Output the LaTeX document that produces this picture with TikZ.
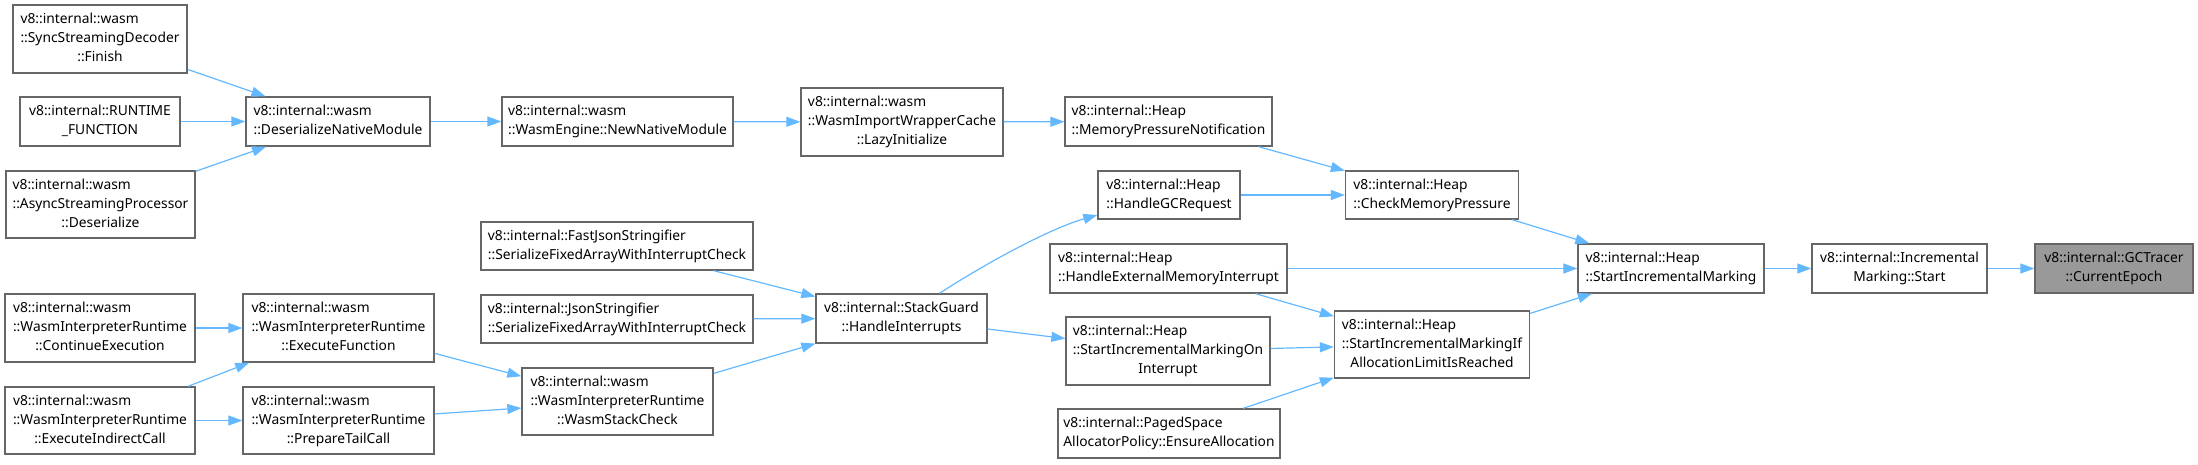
\documentclass[tikz,border=0pt]{standalone}
\usepackage{fontspec}
\setmainfont{Noto Sans}
\usetikzlibrary{arrows.meta,calc}
\definecolor{bordc}{HTML}{666666}
\definecolor{edgec}{HTML}{63B8FF}
\definecolor{mainc}{HTML}{999999}
\newcommand\lastl[1]{\multicolumn{1}{@{}c@{}}{#1}}
\newcommand\lbl[1]{\begin{tabular}{@{}l@{}}#1\end{tabular}}
\newcommand\bx[7][]{\node[box,#1,minimum width=#5pt,minimum height=#6pt] (#2) at (#3,#4) {\lbl{#7}};}
\tikzset{
  box/.style={draw=bordc, fill=white, line width=1.3pt, inner sep=0pt, font=\fontsize{13.8}{19}\selectfont},
  edge/.style={draw=edgec, line width=1.2pt, -{Triangle[length=14pt,width=10pt]}},
}
\begin{document}
\begin{tikzpicture}[x=1pt,y=-1pt]
\useasboundingbox (0,0) rectangle (2198,464);
% column 1
\bx{fin}{100}{39}{174}{68}{v8::internal::wasm\\ ::SyncStreamingDecoder\\ \lastl{::Finish}}
\bx{rtf}{100}{121.5}{160}{49}{v8::internal::RUNTIME\\ \lastl{\_FUNCTION}}
\bx{asp}{100.5}{204.5}{189}{67}{v8::internal::wasm\\ ::AsyncStreamingProcessor\\ \lastl{::Deserialize}}
\bx{ce}{100}{328}{190}{68}{v8::internal::wasm\\ ::WasmInterpreterRuntime\\ \lastl{::ContinueExecution}}
\bx{eic}{100}{420.5}{190}{67}{v8::internal::wasm\\ ::WasmInterpreterRuntime\\ \lastl{::ExecuteIndirectCall}}
% column 2
\bx{dnm}{338}{121.5}{184}{49}{v8::internal::wasm\\ \lastl{::DeserializeNativeModule}}
\bx{ef}{338.5}{328}{191}{68}{v8::internal::wasm\\ ::WasmInterpreterRuntime\\ \lastl{::ExecuteFunction}}
\bx{ptc}{338.5}{420.5}{191}{67}{v8::internal::wasm\\ ::WasmInterpreterRuntime\\ \lastl{::PrepareTailCall}}
% column 3
\bx{nnm}{617.5}{121.5}{231}{49}{v8::internal::wasm\\ \lastl{::WasmEngine::NewNativeModule}}
\bx{fjs}{617}{246}{272}{48}{v8::internal::FastJsonStringifier\\ \lastl{::SerializeFixedArrayWithInterruptCheck}}
\bx{js}{617}{319}{272}{48}{v8::internal::JsonStringifier\\ \lastl{::SerializeFixedArrayWithInterruptCheck}}
\bx{wsc}{617.5}{401.5}{191}{67}{v8::internal::wasm\\ ::WasmInterpreterRuntime\\ \lastl{::WasmStackCheck}}
% column 4
\bx{lazy}{902}{122}{202}{68}{v8::internal::wasm\\ ::WasmImportWrapperCache\\ \lastl{::LazyInitialize}}
\bx{hi}{901.5}{318.5}{171}{49}{v8::internal::StackGuard\\ \lastl{::HandleInterrupts}}
% column 5
\bx{mpn}{1168.5}{121.5}{207}{49}{v8::internal::Heap\\ \lastl{::MemoryPressureNotification}}
\bx{gcr}{1169}{195}{142}{48}{v8::internal::Heap\\ \lastl{::HandleGCRequest}}
\bx{hemi}{1168.5}{268.5}{237}{49}{v8::internal::Heap\\ \lastl{::HandleExternalMemoryInterrupt}}
\bx{simoi}{1168}{351}{204}{68}{v8::internal::Heap\\ ::StartIncrementalMarkingOn\\ \lastl{Interrupt}}
\bx{ens}{1169}{433.5}{222}{49}{v8::internal::PagedSpace\\ \lastl{AllocatorPolicy::EnsureAllocation}}
% column 6
\bx{cmp}{1432}{195}{173}{48}{v8::internal::Heap\\ \lastl{::CheckMemoryPressure}}
\bx{ifal}{1432}{344.5}{195}{67}{v8::internal::Heap\\ ::StartIncrementalMarkingIf\\ \lastl{AllocationLimitIsReached}}
% columns 7-9
\bx{sim}{1671}{268.5}{186}{49}{v8::internal::Heap\\ \lastl{::StartIncrementalMarking}}
\bx{ims}{1899.5}{268.5}{175}{49}{v8::internal::Incremental\\ \lastl{Marking::Start}}
\bx[fill=mainc]{gct}{2114}{268.5}{158}{49}{v8::internal::GCTracer\\ \lastl{::CurrentEpoch}}
% edges
\draw[edge] (fin) -- (dnm);
\draw[edge] (rtf) -- (dnm);
\draw[edge] (asp) -- (dnm);
\draw[edge] (dnm) -- (nnm);
\draw[edge] (nnm) -- (lazy);
\draw[edge] (lazy) -- (mpn);
\draw[edge] (mpn) -- (cmp);
\draw[edge] (gcr) -- (cmp);
\draw[edge] (cmp) -- (sim);
\draw[edge] (hemi) -- (sim);
\draw[edge] (hemi) -- (ifal);
\draw[edge] (ifal) -- (sim);
\draw[edge] (simoi) -- (ifal);
\draw[edge] (ens) -- (ifal);
\draw[edge] ($(hi.north)+(38,0)$) .. controls (975,270) and (1045,230) .. ($(gcr.west)+(0,20)$);
\draw[edge] (hi) -- (simoi);
\draw[edge] (fjs) -- (hi);
\draw[edge] (js) -- (hi);
\draw[edge] (wsc) -- (hi);
\draw[edge] (ef) -- (wsc);
\draw[edge] (ptc) -- (wsc);
\draw[edge] (ce) -- (ef);
\draw[edge] (eic) -- (ef);
\draw[edge] (eic) -- (ptc);
\draw[edge] (sim) -- (ims);
\draw[edge] (ims) -- (gct);
\end{tikzpicture}
\end{document}
